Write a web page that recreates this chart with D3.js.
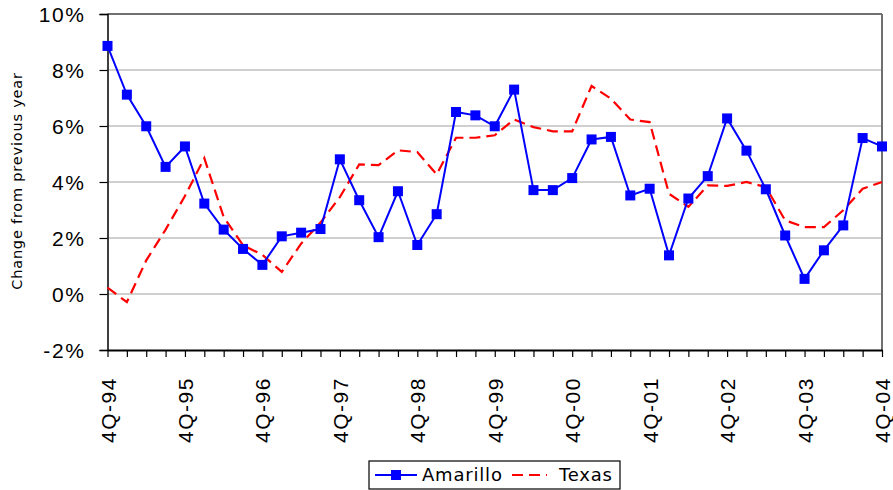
<!DOCTYPE html>
<html>
<head>
<meta charset="utf-8">
<script src="https://cdn.jsdelivr.net/npm/d3@7"></script>
<style>
  html, body { margin: 0; padding: 0; background: #fff; }
  svg { display: block; font-family: "DejaVu Sans", Verdana, sans-serif; }
</style>
</head>
<body>
<svg id="chart" width="893" height="490"></svg>
<script>
// Quarterly year-over-year change (%), 4Q-94 through 4Q-04
const quarters = [
  "4Q-94","1Q-95","2Q-95","3Q-95","4Q-95","1Q-96","2Q-96","3Q-96","4Q-96",
  "1Q-97","2Q-97","3Q-97","4Q-97","1Q-98","2Q-98","3Q-98","4Q-98",
  "1Q-99","2Q-99","3Q-99","4Q-99","1Q-00","2Q-00","3Q-00","4Q-00",
  "1Q-01","2Q-01","3Q-01","4Q-01","1Q-02","2Q-02","3Q-02","4Q-02",
  "1Q-03","2Q-03","3Q-03","4Q-03","1Q-04","2Q-04","3Q-04","4Q-04"
];
const amarillo = [
  8.86, 7.12, 5.99, 4.54, 5.27, 3.23, 2.30, 1.61, 1.04,
  2.06, 2.19, 2.32, 4.81, 3.35, 2.03, 3.67, 1.75,
  2.85, 6.50, 6.38, 5.99, 7.30, 3.71, 3.71, 4.14,
  5.52, 5.61, 3.52, 3.76, 1.38, 3.41, 4.21, 6.27,
  5.12, 3.74, 2.09, 0.54, 1.56, 2.45, 5.57, 5.27
];
const texas = [
  0.23, -0.29, 1.20, 2.30, 3.50, 4.85, 2.75, 1.74, 1.40,
  0.79, 1.80, 2.55, 3.46, 4.63, 4.60, 5.13, 5.07,
  4.27, 5.58, 5.58, 5.67, 6.23, 5.96, 5.81, 5.81,
  7.43, 6.98, 6.23, 6.14, 3.58, 3.11, 3.88, 3.86,
  4.00, 3.82, 2.63, 2.39, 2.39, 2.99, 3.76, 4.00
];
const yTicks = [-2, 0, 2, 4, 6, 8, 10];
const seriesNames = ["Amarillo", "Texas"];

const svg = d3.select("#chart");
const plot = { left: 107.5, right: 882, top: 14, bottom: 350 };

const x = d3.scalePoint().domain(quarters).range([plot.left, plot.right]);
const y = d3.scaleLinear().domain([-2, 10]).range([plot.bottom, plot.top]);

// Horizontal gridlines
svg.append("g")
  .selectAll("line")
  .data(yTicks.filter(t => t > -2 && t < 10))
  .join("line")
  .attr("x1", plot.left).attr("x2", plot.right)
  .attr("y1", d => y(d)).attr("y2", d => y(d))
  .attr("stroke", "#c0c0c0").attr("stroke-width", 1.5);

// Frame: top and right edges
svg.append("line")
  .attr("x1", plot.left).attr("x2", plot.right)
  .attr("y1", plot.top).attr("y2", plot.top)
  .attr("stroke", "#404040").attr("stroke-width", 1.5);
svg.append("line")
  .attr("x1", plot.right).attr("x2", plot.right)
  .attr("y1", plot.top).attr("y2", plot.bottom)
  .attr("stroke", "#707070").attr("stroke-width", 2);

// Y axis
const yAxis = svg.append("g")
  .attr("transform", `translate(${plot.left},0)`)
  .call(d3.axisLeft(y).tickValues(yTicks).tickSize(8).tickPadding(14)
    .tickFormat(d => d + "%"));
yAxis.select(".domain").attr("stroke", "#000").attr("stroke-width", 1.5);
yAxis.selectAll(".tick line").attr("stroke", "#000").attr("stroke-width", 1.2);
yAxis.selectAll(".tick text")
  .attr("font-size", 21).attr("fill", "#000")
  .attr("letter-spacing", 1.6)
  .attr("dy", "0.36em");

// X axis
const labelSet = new Set(quarters.filter(q => q.startsWith("4Q")));
const xAxis = svg.append("g")
  .attr("transform", `translate(0,${plot.bottom})`)
  .call(d3.axisBottom(x).tickSize(7).tickSizeOuter(0)
    .tickFormat(d => labelSet.has(d) ? d : ""));
xAxis.select(".domain").attr("stroke", "#000").attr("stroke-width", 2);
xAxis.selectAll(".tick line").attr("stroke", "#000").attr("stroke-width", 1.2);
xAxis.selectAll(".tick text")
  .attr("font-size", 21).attr("fill", "#000")
  .attr("letter-spacing", 1.5)
  .attr("text-anchor", "start")
  .attr("transform", "translate(0,93) rotate(-90)")
  .attr("x", 0).attr("y", 0).attr("dy", "0.36em");

// Y axis title
svg.append("text")
  .attr("transform", "translate(22,181) rotate(-90)")
  .attr("text-anchor", "middle")
  .attr("font-size", 14.5)
  .attr("letter-spacing", 0.8)
  .attr("fill", "#000")
  .text("Change from previous year");

// Texas line (dashed red)
const line = d3.line().x((d, i) => x(quarters[i])).y(d => y(d));
svg.append("path")
  .datum(texas)
  .attr("d", line)
  .attr("fill", "none")
  .attr("stroke", "#ff0000").attr("stroke-width", 2.2)
  .attr("stroke-dasharray", "11,6");

// Amarillo line with square markers
svg.append("path")
  .datum(amarillo)
  .attr("d", line)
  .attr("fill", "none")
  .attr("stroke", "#0000ff").attr("stroke-width", 2);
const ms = 10;
svg.append("g")
  .selectAll("rect")
  .data(amarillo)
  .join("rect")
  .attr("x", (d, i) => x(quarters[i]) - ms / 2)
  .attr("y", d => y(d) - ms / 2)
  .attr("width", ms).attr("height", ms)
  .attr("fill", "#0000ff");

// Legend
const legend = svg.append("g");
legend.append("rect")
  .attr("x", 369).attr("y", 461).attr("width", 251).attr("height", 28)
  .attr("fill", "#fff").attr("stroke", "#000").attr("stroke-width", 1.2);
const ly = 475;
legend.append("line")
  .attr("x1", 375).attr("x2", 417).attr("y1", ly).attr("y2", ly)
  .attr("stroke", "#0000ff").attr("stroke-width", 2);
legend.append("rect")
  .attr("x", 396 - ms / 2).attr("y", ly - ms / 2)
  .attr("width", ms).attr("height", ms).attr("fill", "#0000ff");
legend.append("text")
  .attr("x", 422).attr("y", ly).attr("dy", "0.36em")
  .attr("font-size", 18).attr("letter-spacing", 0.8).attr("fill", "#000")
  .text(seriesNames[0]);
legend.append("line")
  .attr("x1", 512).attr("x2", 547).attr("y1", ly).attr("y2", ly)
  .attr("stroke", "#ff0000").attr("stroke-width", 2.2)
  .attr("stroke-dasharray", "11,6");
legend.append("text")
  .attr("x", 559).attr("y", ly).attr("dy", "0.36em")
  .attr("font-size", 18).attr("letter-spacing", 0.8).attr("fill", "#000")
  .text(seriesNames[1]);
</script>
</body>
</html>
